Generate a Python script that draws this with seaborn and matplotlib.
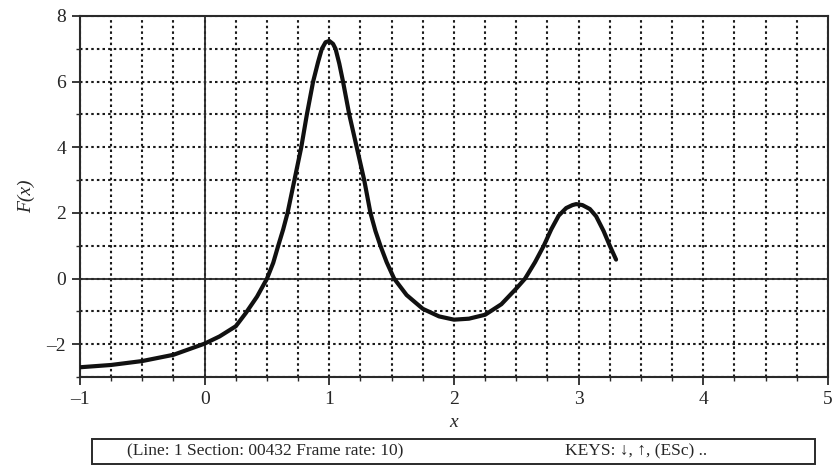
import numpy as np
import pandas as pd
import matplotlib
matplotlib.use("Agg")
import matplotlib.pyplot as plt
import seaborn as sns
from matplotlib.patches import Rectangle
from matplotlib.ticker import MultipleLocator

# curve values
x_vals = [-1.0, -0.75, -0.5, -0.25, 0.0, 0.12, 0.25, 0.33, 0.42, 0.5, 0.55, 0.59,
          0.63, 0.665, 0.72, 0.775, 0.82, 0.87, 0.91, 0.94, 0.97, 1.0, 1.03, 1.05,
          1.08, 1.11, 1.16, 1.22, 1.28, 1.33, 1.37, 1.41, 1.46, 1.52, 1.62, 1.75,
          1.88, 2.0, 2.12, 2.25, 2.38, 2.5, 2.57, 2.65, 2.72, 2.78, 2.84, 2.9,
          2.95, 2.98, 3.03, 3.09, 3.14, 3.2, 3.25, 3.3]
f_vals = [-2.70, -2.63, -2.51, -2.32, -1.98, -1.76, -1.45, -1.05, -0.55, 0.0, 0.48, 1.0,
          1.5, 2.0, 3.0, 4.0, 5.0, 6.0, 6.6, 7.0, 7.2, 7.24, 7.15, 7.0,
          6.55, 6.0, 5.0, 4.0, 3.0, 2.0, 1.45, 1.0, 0.5, 0.0, -0.5, -0.92,
          -1.15, -1.25, -1.22, -1.1, -0.78, -0.3, 0.0, 0.5, 1.0, 1.5, 1.92, 2.15,
          2.24, 2.27, 2.24, 2.12, 1.9, 1.45, 1.0, 0.58]

x_ticks = [-1, 0, 1, 2, 3, 4, 5]
y_ticks = [-2, 0, 2, 4, 6, 8]
status_text = "(Line: 1 Section: 00432 Frame rate: 10)"
keys_text = "KEYS: \u2193, \u2191, (ESc) .."

df = pd.DataFrame({"x": x_vals, "F": f_vals})

sns.set_style("white")
plt.rcParams['font.family'] = ['Liberation Serif', 'DejaVu Serif']
plt.rcParams['axes.unicode_minus'] = True

fig = plt.figure(figsize=(8.33, 4.65), dpi=100)
ax = fig.add_axes([0.096, 0.189, 0.898, 0.7766])

# dotted grid
ax.xaxis.set_minor_locator(MultipleLocator(0.25))
ax.yaxis.set_minor_locator(MultipleLocator(1))
ax.grid(True, which="both", color="#1a1a1a", linestyle=(0, (1.2, 1.5)), linewidth=1.5)
ax.set_axisbelow(True)

# axis lines through zero
ax.axvline(0, color="#2a2a2a", linewidth=1.3, zorder=2)
ax.axhline(0, color="#2a2a2a", linewidth=1.3, zorder=2)

sns.lineplot(data=df, x="x", y="F", ax=ax, color="#111111", linewidth=3.0,
             zorder=3, sort=False)

ax.set_xlim(-1, 5)
ax.set_ylim(-3, 8)
ax.set_xticks(x_ticks)
ax.set_yticks(y_ticks)
ax.set_xticklabels([str(t) if t >= 0 else "\u2013" + str(-t) for t in x_ticks])
ax.set_yticklabels([str(t) if t >= 0 else "\u2013" + str(-t) for t in y_ticks])
ax.tick_params(axis="both", which="major", direction="out", length=6, width=1.3,
               color="#2a2a2a", labelsize=14, pad=4, bottom=True, left=True)
ax.tick_params(axis="both", which="minor", direction="out", length=3, width=1.0,
               color="#2a2a2a", bottom=True, left=True)

for s in ax.spines.values():
    s.set_visible(True)
    s.set_color("#2a2a2a")
    s.set_linewidth(1.5)

ax.set_xlabel("x", fontsize=14, style="italic", labelpad=4)
ax.set_ylabel("F(x)", fontsize=14, style="italic", labelpad=8)

# status bar box at the bottom
fig.patches.append(Rectangle((0.110, 0.003), 0.868, 0.053, transform=fig.transFigure,
                             fill=False, edgecolor="#2a2a2a", linewidth=1.4))
fig.text(0.318, 0.029, status_text, ha="center", va="center", fontsize=12.5)
fig.text(0.678, 0.029, keys_text, ha="left", va="center", fontsize=12.5)

fig.savefig("out.png", dpi=100)
